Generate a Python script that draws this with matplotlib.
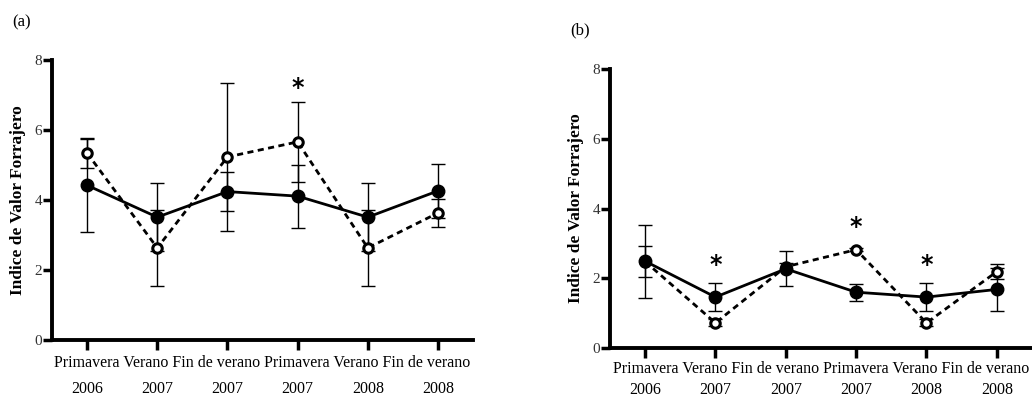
import matplotlib.pyplot as plt

plt.rcParams['font.family'] = ['Liberation Serif', 'DejaVu Serif']

# Etiquetas del eje x
temporadas = ['Primavera', 'Verano', 'Fin de verano',
              'Primavera', 'Verano', 'Fin de verano']
anios = ['2006', '2007', '2007', '2007', '2008', '2008']
x = list(range(len(anios)))

# Panel (a)
a_lleno = [4.42, 3.51, 4.24, 4.11, 3.51, 4.26]
a_lleno_err = [1.33, 0.98, 0.56, 0.90, 0.98, 0.77]
a_vacio = [5.34, 2.63, 5.23, 5.66, 2.63, 3.63]
a_vacio_err = [0.43, 1.09, 2.11, 1.14, 1.09, 0.40]
a_signif = [3]
a_ast_y = [7.2]

# Panel (b)
b_lleno = [2.49, 1.46, 2.27, 1.60, 1.46, 1.68]
b_lleno_err = [1.05, 0.40, 0.50, 0.24, 0.40, 0.62]
b_vacio = [2.48, 0.72, 2.33, 2.82, 0.72, 2.19]
b_vacio_err = [0.45, 0.10, 0.10, 0.05, 0.10, 0.21]
b_signif = [1, 3, 4]
b_ast_y = [2.38, 3.47, 2.38]

fig = plt.figure(figsize=(10.32, 3.97), dpi=100)
ax_a = fig.add_axes([0.0504, 0.1436, 0.408, 0.7053])
ax_b = fig.add_axes([0.591, 0.1234, 0.409, 0.7028])


def panel(ax, lleno, lleno_err, vacio, vacio_err, signif, ast_y, off_temp, pad_anio):
    ax.errorbar(x, vacio, yerr=vacio_err, fmt='none', ecolor='black',
                elinewidth=1.0, capsize=5, capthick=1.0, zorder=2)
    ax.errorbar(x, lleno, yerr=lleno_err, fmt='none', ecolor='black',
                elinewidth=1.0, capsize=5, capthick=1.0, zorder=2)
    ax.plot(x, vacio, linestyle=(0, (2.2, 1.6)), color='black', linewidth=2.0,
            marker='o', markersize=6.8, markerfacecolor='white',
            markeredgecolor='black', markeredgewidth=2.2, zorder=3)
    ax.plot(x, lleno, linestyle='-', color='black', linewidth=2.0,
            marker='o', markersize=9, markerfacecolor='black',
            markeredgecolor='black', zorder=4)
    for i, yy in zip(signif, ast_y):
        ax.text(x[i], yy, '*', ha='center', va='center', fontsize=17,
                fontweight='bold', family='DejaVu Sans')
    ax.set_xlim(-0.5, 5.5)
    ax.set_ylim(0, 8)
    ax.set_yticks([0, 2, 4, 6, 8])
    ax.set_xticks(x)
    ax.set_xticklabels(anios, fontsize=11.5)
    # linea de temporadas, una sola cadena centrada bajo el eje
    ax.annotate(' '.join(temporadas), xy=((x[0] + x[-1]) / 2, 0),
                xycoords=('data', 'axes fraction'),
                xytext=(0, off_temp), textcoords='offset points',
                ha='center', va='center', fontsize=11.5, annotation_clip=False)
    ax.tick_params(axis='y', labelsize=11, width=2.5, length=6.5, pad=0.5,
                   labelcolor='#333333')
    ax.tick_params(axis='x', width=2.5, length=7, pad=pad_anio)
    for s in ['top', 'right']:
        ax.spines[s].set_visible(False)
    for s in ['left', 'bottom']:
        ax.spines[s].set_linewidth(2.8)
    ax.set_ylabel('Indice de Valor Forrajero', fontsize=12.5,
                  fontweight='bold', labelpad=6)


panel(ax_a, a_lleno, a_lleno_err, a_vacio, a_vacio_err, a_signif, a_ast_y, -16.6, 22.5)
panel(ax_b, b_lleno, b_lleno_err, b_vacio, b_vacio_err, b_signif, b_ast_y, -15.1, 17.5)

fig.text(12 / 1032, 1 - 22 / 397, '(a)', fontsize=12, va='center', ha='left')
fig.text(570 / 1032, 1 - 30 / 397, '(b)', fontsize=12, va='center', ha='left')

fig.savefig('out.png', dpi=100)
